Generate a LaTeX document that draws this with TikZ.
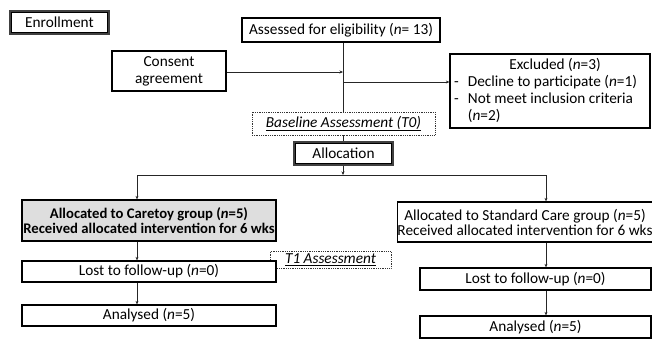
\documentclass[tikz,border=0pt]{standalone}
\usepackage{fontspec}
\setmainfont{Carlito}
\usetikzlibrary{arrows.meta}
\begin{document}
\begin{tikzpicture}[x=1pt,y=-1pt,
  box/.style={draw=black, line width=1.3pt, fill=white, inner sep=0pt, align=center, font=\fontsize{15.3}{15}\selectfont},
  dotbox/.style={draw=black!80, dash pattern=on 0.9pt off 0.9pt, line width=1pt, fill=white, inner sep=0pt, align=center, font=\fontsize{15.3}{15}\selectfont\itshape},
  inner/.style={draw=black, line width=0.7pt},
  conn/.style={line width=0.8pt, draw=black!85},
  arr/.style={conn, -{Stealth[length=3.5pt,width=3pt]}}
]
\useasboundingbox (0,0) rectangle (652,338);
\fill[white] (0,0) rectangle (652,338);

\node[box, draw=black!75, line width=1.1pt, minimum width=99, minimum height=23] (enr) at (59.5,22.5) {Enrollment};
\draw[inner] ([shift={(2.2,2.2)}]enr.north west) rectangle ([shift={(-2.2,-2.2)}]enr.south east);
\node[box, minimum width=198, minimum height=24] (ass) at (341,30) {Assessed for eligibility (\textit{n}= 13)};
\node[box, minimum width=114, minimum height=40, font=\fontsize{15.3}{17}\selectfont] (con) at (169,71) {Consent\\agreement};
\node[box, minimum width=200, minimum height=74] (exc) at (550,91) {};
\node[font=\fontsize{15.3}{17}\selectfont, align=center] (exct) at (555,65) {Excluded (\textit{n}=3)};
\node[font=\fontsize{15.3}{17}\selectfont, anchor=north west, inner sep=0pt] (excl) at (454,74)
  {\begin{tabular}{@{}l@{\hspace{9pt}}l@{}}
   - & Decline to participate (\textit{n}=1)\\
   - & Not meet inclusion criteria\\
     & (\textit{n}=2)
   \end{tabular}};

\coordinate (j1) at (343,72);
\coordinate (j2) at (343,82);
\coordinate (j3) at (343,175);
\coordinate (jl) at (137,175);
\coordinate (jr) at (546,175);

\node[box, draw=black!75, line width=1.1pt, minimum width=99, minimum height=23] (alloc) at (343.5,153.5) {Allocation};
\draw[inner] ([shift={(2.2,2.2)}]alloc.north west) rectangle ([shift={(-2.2,-2.2)}]alloc.south east);

\draw[conn] (ass.south -| j1) -- (alloc.north -| j1);
\draw[arr] (con.east |- j1) -- (j1);
\draw[arr] (j2) -- (exc.west |- j2);

\node[dotbox, minimum width=183, minimum height=23] (base) at (343.5,123.5) {\underline{Baseline Assessment (T0)}};

\draw[arr] (alloc.south -| j3) -- (j3);
\draw[conn] (jl) -- (jr);

\node[box, fill=black!13, minimum width=254, minimum height=41, font=\fontsize{14.7}{14.5}\selectfont\bfseries] (care) at (149,220.5) {Allocated to Caretoy group (\textit{n}=5)\\Received allocated intervention for 6 wks};
\node[box, minimum width=252, minimum height=40] (std) at (525,222) {Allocated to Standard Care group (\textit{n}=5)\\Received allocated intervention for 6 wks};

\node[dotbox, minimum width=121, minimum height=17] (t1) at (330.5,260) {\underline{T1 Assessment}};

\node[box, minimum width=254, minimum height=21] (lostl) at (149,271.5) {Lost to follow-up (\textit{n}=0)};
\node[box, minimum width=231, minimum height=22] (lostr) at (535.5,279) {Lost to follow-up (\textit{n}=0)};
\node[box, minimum width=254, minimum height=21] (anl) at (149,315.5) {Analysed (\textit{n}=5)};
\node[box, minimum width=231, minimum height=22] (anr) at (535.5,327) {Analysed (\textit{n}=5)};

\draw[arr] (jl) -- (care.north -| jl);
\draw[arr] (jr) -- (std.north -| jr);
\draw[arr] (care.south -| jl) -- (lostl.north -| jl);
\draw[arr] (lostl.south -| jl) -- (anl.north -| jl);
\draw[arr] (std.south -| jr) -- (lostr.north -| jr);
\draw[arr] (lostr.south -| jr) -- (anr.north -| jr);
\end{tikzpicture}
\end{document}
